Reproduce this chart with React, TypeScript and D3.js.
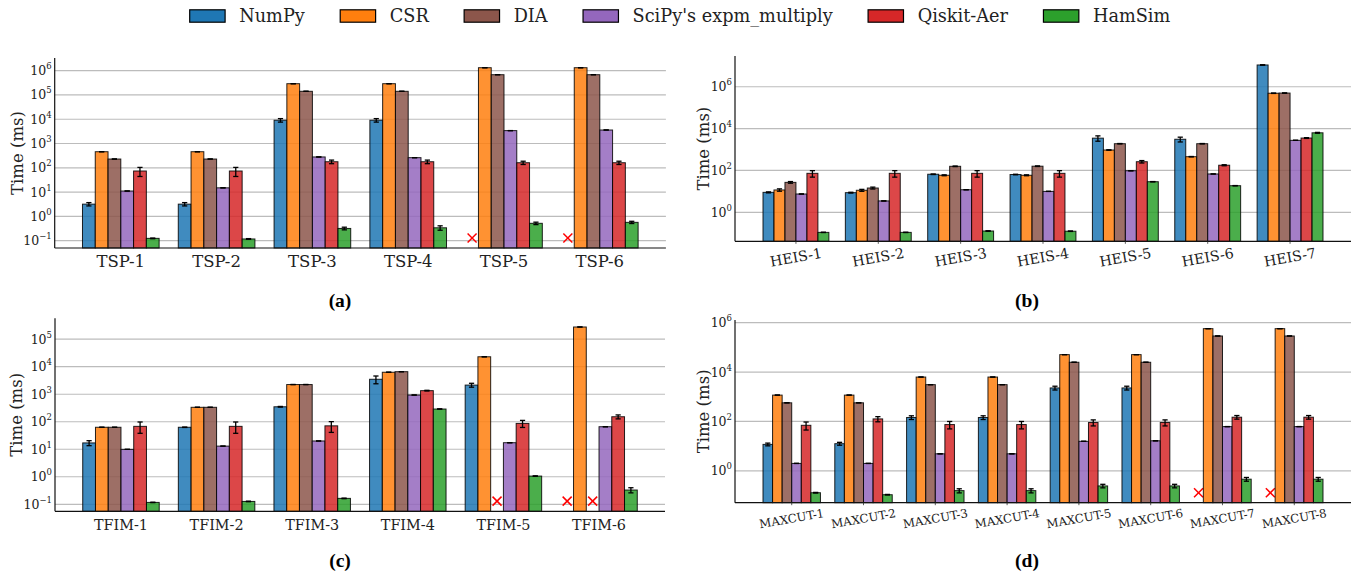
import { useEffect, useRef } from "react";
import * as d3 from "d3";

const methods = ["NumPy", "CSR", "DIA", "SciPy's expm_multiply", "Qiskit-Aer", "HamSim"];
const colors = ["#1f77b4", "#ff7f0e", "#8c564b", "#9467bd", "#d62728", "#2ca02c"];

// (a) TSP
const tspCats = ["TSP-1", "TSP-2", "TSP-3", "TSP-4", "TSP-5", "TSP-6"];
const tspNumPy = [3.2, 3.2, 9100, 9100, null, null];
const tspCSR = [460, 460, 290000, 290000, 1320000, 1320000];
const tspDIA = [230, 230, 141000, 141000, 680000, 680000];
const tspSciPy = [11.1, 15, 280, 262, 3400, 3600];
const tspQiskit = [74, 74, 178, 178, 162, 162];
const tspHamSim = [0.125, 0.118, 0.32, 0.34, 0.52, 0.57];
const tspNumPyErr = [0.5, 0.5, 1500, 1500, 0, 0];
const tspQiskitErr = [30, 30, 30, 30, 25, 25];
const tspHamSimErr = [0.004, 0.004, 0.04, 0.07, 0.06, 0.06];

// (b) HEIS
const heisCats = ["HEIS-1", "HEIS-2", "HEIS-3", "HEIS-4", "HEIS-5", "HEIS-6", "HEIS-7"];
const heisNumPy = [9.0, 8.7, 66, 64, 3500, 3100, 11000000];
const heisCSR = [11.7, 11.3, 59, 59, 950, 455, 490000];
const heisDIA = [27, 14.5, 158, 160, 1900, 1900, 500000];
const heisSciPy = [7.5, 3.5, 12, 10, 97, 68, 2750];
const heisQiskit = [73, 73, 73, 73, 262, 178, 3550];
const heisHamSim = [0.11, 0.11, 0.128, 0.125, 29, 18.7, 6300];
const heisNumPyErr = [0.5, 0.4, 2, 2, 1000, 800, 200000];
const heisCSRErr = [1.5, 1.2, 3, 3, 20, 10, 10000];
const heisDIAErr = [2.5, 1.5, 5, 5, 40, 40, 10000];
const heisQiskitErr = [25, 25, 25, 25, 35, 10, 150];
const heisHamSimErr = [0.002, 0.002, 0.003, 0.003, 0.5, 0.3, 300];

// (c) TFIM
const tfimCats = ["TFIM-1", "TFIM-2", "TFIM-3", "TFIM-4", "TFIM-5", "TFIM-6"];
const tfimNumPy = [17, 63, 350, 3500, 2150, null];
const tfimCSR = [63, 335, 2250, 6300, 23000, 278000];
const tfimDIA = [63, 335, 2250, 6600, null, null];
const tfimSciPy = [9.9, 13, 20, 935, 17.3, 66];
const tfimQiskit = [68, 68, 71, 1350, 87, 152];
const tfimHamSim = [0.117, 0.127, 0.164, 290, 1.06, 0.33];
const tfimNumPyErr = [3.5, 1, 10, 1100, 350, 0];
const tfimQiskitErr = [30, 30, 30, 40, 25, 25];
const tfimHamSimErr = [0.002, 0.003, 0.004, 5, 0.02, 0.07];

// (d) MAXCUT
const maxcutCats = ["MAXCUT-1", "MAXCUT-2", "MAXCUT-3", "MAXCUT-4", "MAXCUT-5", "MAXCUT-6", "MAXCUT-7", "MAXCUT-8"];
const maxcutNumPy = [11.8, 12.6, 145, 145, 2280, 2280, null, null];
const maxcutCSR = [1170, 1170, 6300, 6300, 51000, 51000, 575000, 575000];
const maxcutDIA = [570, 570, 3100, 3100, 25000, 25000, 290000, 290000];
const maxcutSciPy = [2.0, 2.0, 4.9, 4.9, 15.7, 16.5, 62, 62];
const maxcutQiskit = [70, 127, 75, 75, 91, 91, 149, 149];
const maxcutHamSim = [0.13, 0.108, 0.158, 0.158, 0.245, 0.245, 0.46, 0.46];
const maxcutNumPyErr = [1.5, 1.7, 25, 25, 400, 400, 0, 0];
const maxcutQiskitErr = [25, 30, 25, 25, 25, 25, 25, 25];
const maxcutHamSimErr = [0.004, 0.003, 0.03, 0.03, 0.04, 0.04, 0.08, 0.08];

const FONT = "'DejaVu Serif', serif";
const MISSING = 0.13; // where the red crosses sit

const zeros = (n) => new Array(n).fill(0);

const panels = [
  {
    cats: tspCats,
    series: [tspNumPy, tspCSR, tspDIA, tspSciPy, tspQiskit, tspHamSim],
    errs: [tspNumPyErr, zeros(6), zeros(6), zeros(6), tspQiskitErr, tspHamSimErr],
    left: 54.7, right: 665.9, top: 58, bottom: 248,
    yMin: 10 ** -1.3, yMax: 10 ** 6.52,
    yTicks: [-1, 0, 1, 2, 3, 4, 5, 6],
    xFont: 16.5, rotate: false, caption: "(a)", capX: 340, capY: 307, yLabX: 17,
  },
  {
    cats: heisCats,
    series: [heisNumPy, heisCSR, heisDIA, heisSciPy, heisQiskit, heisHamSim],
    errs: [heisNumPyErr, heisCSRErr, heisDIAErr, zeros(7), heisQiskitErr, heisHamSimErr],
    left: 735, right: 1351, top: 56, bottom: 241.3,
    yMin: 10 ** -1.385, yMax: 10 ** 7.47,
    yTicks: [0, 2, 4, 6],
    xFont: 14.2, rotate: true, caption: "(b)", capX: 1027, capY: 307, yLabX: 703,
  },
  {
    cats: tfimCats,
    series: [tfimNumPy, tfimCSR, tfimDIA, tfimSciPy, tfimQiskit, tfimHamSim],
    errs: [tfimNumPyErr, zeros(6), zeros(6), zeros(6), tfimQiskitErr, tfimHamSimErr],
    left: 55, right: 665, top: 318.3, bottom: 511.3,
    yMin: 10 ** -1.255, yMax: 10 ** 5.76,
    yTicks: [-1, 0, 1, 2, 3, 4, 5],
    xFont: 14.4, rotate: false, caption: "(c)", capX: 340, capY: 567, yLabX: 16,
  },
  {
    cats: maxcutCats,
    series: [maxcutNumPy, maxcutCSR, maxcutDIA, maxcutSciPy, maxcutQiskit, maxcutHamSim],
    errs: [maxcutNumPyErr, zeros(8), zeros(8), zeros(8), maxcutQiskitErr, maxcutHamSimErr],
    left: 735, right: 1351, top: 320, bottom: 502.7,
    yMin: 10 ** -1.29, yMax: 10 ** 6.11,
    yTicks: [0, 2, 4, 6],
    xFont: 11.8, rotate: true, caption: "(d)", capX: 1027, capY: 567, yLabX: 703,
  },
];

function drawPanel(svg, p) {
  const n = p.cats.length;
  const bw = 0.8 / methods.length;
  const pad = ((n - 1) + 0.8) * 0.05 + 0.4;
  const x = d3.scaleLinear().domain([-pad, n - 1 + pad]).range([p.left, p.right]);
  const y = d3.scaleLog().domain([p.yMin, p.yMax]).range([p.bottom, p.top]);
  const g = svg.append("g");

  // grid
  g.selectAll(".grid")
    .data(p.yTicks)
    .join("line")
    .attr("x1", p.left).attr("x2", p.right)
    .attr("y1", (d) => y(10 ** d)).attr("y2", (d) => y(10 ** d))
    .attr("stroke", "#bcbcbc").attr("stroke-width", 1.2);

  // bars
  p.series.forEach((vals, j) => {
    const cells = vals.map((v, i) => ({ v, i, e: p.errs[j][i], c: i + (j - 2.5) * bw }));
    g.selectAll(null)
      .data(cells.filter((d) => d.v != null))
      .join("rect")
      .attr("x", (d) => x(d.c - bw / 2))
      .attr("width", (d) => x(d.c + bw / 2) - x(d.c - bw / 2))
      .attr("y", (d) => y(d.v))
      .attr("height", (d) => p.bottom - y(d.v))
      .attr("fill", colors[j]).attr("fill-opacity", 0.85)
      .attr("stroke", "#000").attr("stroke-opacity", 0.85).attr("stroke-width", 1);

    // error bars
    const eb = g.selectAll(null).data(cells.filter((d) => d.v != null)).join("g");
    eb.append("line")
      .attr("x1", (d) => x(d.c)).attr("x2", (d) => x(d.c))
      .attr("y1", (d) => y(Math.max(d.v - d.e, p.yMin))).attr("y2", (d) => y(d.v + d.e));
    eb.append("line")
      .attr("x1", (d) => x(d.c) - 2.6).attr("x2", (d) => x(d.c) + 2.6)
      .attr("y1", (d) => y(d.v + d.e)).attr("y2", (d) => y(d.v + d.e));
    eb.append("line")
      .attr("x1", (d) => x(d.c) - 2.6).attr("x2", (d) => x(d.c) + 2.6)
      .attr("y1", (d) => y(Math.max(d.v - d.e, p.yMin))).attr("y2", (d) => y(Math.max(d.v - d.e, p.yMin)));
    eb.selectAll("line").attr("stroke", "#000").attr("stroke-width", 1.3);

    // red crosses for missing runs
    const miss = g.selectAll(null).data(cells.filter((d) => d.v == null)).join("g")
      .attr("transform", (d) => `translate(${x(d.c)},${y(MISSING)})`);
    miss.append("line").attr("x1", -4.5).attr("y1", -4.5).attr("x2", 4.5).attr("y2", 4.5);
    miss.append("line").attr("x1", -4.5).attr("y1", 4.5).attr("x2", 4.5).attr("y2", -4.5);
    miss.selectAll("line").attr("stroke", "#ff0000").attr("stroke-width", 1.5);
  });

  // spines
  g.append("line").attr("x1", p.left).attr("x2", p.left).attr("y1", p.top).attr("y2", p.bottom)
    .attr("stroke", "#111").attr("stroke-width", 1.2);
  g.append("line").attr("x1", p.left).attr("x2", p.right).attr("y1", p.bottom).attr("y2", p.bottom)
    .attr("stroke", "#111").attr("stroke-width", 1.2);

  // y tick labels
  const yt = g.selectAll(null).data(p.yTicks).join("text")
    .attr("x", p.left - 3).attr("y", (d) => y(10 ** d) + 4.5)
    .attr("text-anchor", "end").attr("font-family", FONT).attr("font-size", 12.5).attr("fill", "#222");
  yt.append("tspan").text("10");
  yt.append("tspan").attr("dy", -6).attr("font-size", 8.5).text((d) => (d < 0 ? "\u2212" + -d : String(d)));

  // x tick labels
  if (p.rotate) {
    g.selectAll(null).data(p.cats).join("line")
      .attr("x1", (d, i) => x(i)).attr("x2", (d, i) => x(i))
      .attr("y1", p.bottom).attr("y2", p.bottom + 2.5)
      .attr("stroke", "#333").attr("stroke-width", 0.8);
    g.selectAll(null).data(p.cats).join("text")
      .attr("x", (d, i) => x(i)).attr("y", p.bottom + 16)
      .attr("transform", (d, i) => `rotate(-10,${x(i)},${p.bottom + 16})`)
      .attr("text-anchor", "middle").attr("dominant-baseline", "central")
      .attr("font-family", FONT).attr("font-size", p.xFont).attr("fill", "#222")
      .text((d) => d);
  } else {
    g.selectAll(null).data(p.cats).join("text")
      .attr("x", (d, i) => x(i)).attr("y", p.bottom + 18.5)
      .attr("text-anchor", "middle")
      .attr("font-family", FONT).attr("font-size", p.xFont).attr("fill", "#222")
      .text((d) => d);
  }

  // y label
  const cy = (p.top + p.bottom) / 2;
  g.append("text")
    .attr("transform", `translate(${p.yLabX},${cy}) rotate(-90)`)
    .attr("text-anchor", "middle").attr("dominant-baseline", "central")
    .attr("font-family", FONT).attr("font-size", 16.5).attr("fill", "#222")
    .text("Time (ms)");

  // caption
  g.append("text")
    .attr("x", p.capX).attr("y", p.capY)
    .attr("text-anchor", "middle")
    .attr("font-family", "'Liberation Serif', serif").attr("font-weight", "bold").attr("font-size", 19.5)
    .text(p.caption);
}

function drawLegend(svg) {
  const fs = 17.7;
  const lg = svg.append("g");
  let cursor = 0;
  methods.forEach((m, j) => {
    const it = lg.append("g");
    it.append("rect").attr("x", 0).attr("y", -0.35 * fs).attr("width", 2 * fs).attr("height", 0.7 * fs)
      .attr("fill", colors[j]).attr("stroke", "#000").attr("stroke-width", 1.2);
    const t = it.append("text").attr("x", 2.8 * fs).attr("y", 0)
      .attr("dominant-baseline", "central")
      .attr("font-family", FONT).attr("font-size", fs).attr("fill", "#222").text(m);
    const w = 2.8 * fs + t.node().getComputedTextLength();
    it.attr("transform", `translate(${cursor},0)`);
    cursor += w + 2 * fs;
  });
  const total = cursor - 2 * fs;
  lg.attr("transform", `translate(${680 - total / 2},16)`);
}

export default function App() {
  const ref = useRef(null);
  useEffect(() => {
    const svg = d3.select(ref.current);
    svg.selectAll("*").remove();
    drawLegend(svg);
    panels.forEach((p) => drawPanel(svg, p));
    return () => {
      svg.selectAll("*").remove();
    };
  }, []);
  return (
    <svg
      ref={ref}
      width={1356}
      height={577}
      style={{ position: "absolute", left: 0, top: 0, background: "#fff" }}
    />
  );
}
